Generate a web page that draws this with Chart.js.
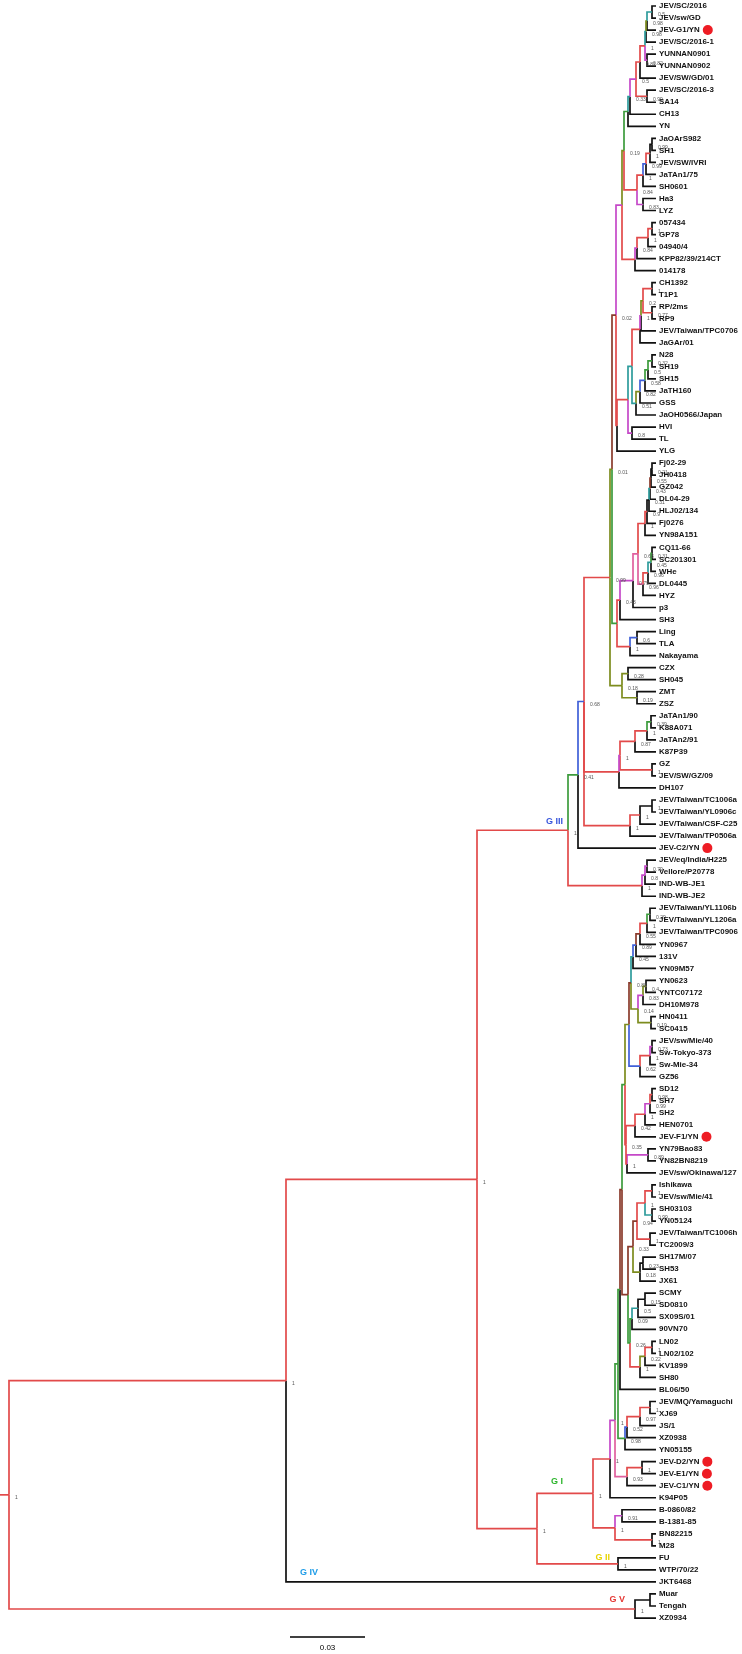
<!DOCTYPE html>
<html>
<head>
<meta charset="utf-8">
<script src="https://cdn.jsdelivr.net/npm/chart.js@4.4.0/dist/chart.umd.min.js"></script>
<style>
    html, body { margin: 0; padding: 0; background: #fff; }
    #wrap { width: 742px; height: 1654px; }
</style>
</head>
<body>
<div id="wrap"><canvas id="treeChart" width="742" height="1654"></canvas></div>
<script>
// ===== TREE DATA (newick pieces: name:branch length, internal label = support, [x] = branch colour class) =====
const gIII_SC = "((((((((JEV/SC/2016:0.0016,JEV/sw/GD:0.0016)0.5:0.002[t],JEV-G1/YN:0.0036)0.98:0.0004[o],JEV/SC/2016-1:0.004)0.98:0.0004[t],(YUNNAN0901:0.0036,YUNNAN0902:0.0036)0.82:0.0008[m])1:0.002,JEV/SW/GD/01:0.0064)0.81:0.0016,(JEV/SC/2016-3:0.0036,SA14:0.0036)0.99:0.0044)0.5:0.0024[m],CH13:0.0104)0.33:0.0008[t],YN:0.0112):0.0016[g]";
const gIII_JaOArS = "(((((JaOArS982:0.0016,SH1:0.0016)0.99:0.0008[k],JEV/SW/IVRI:0.0024)1:0.0016,JaTAn1/75:0.004)0.99:0.0012[b],SH0601:0.0052)1:0.0024,(Ha3:0.0052,LYZ:0.0052)0.83:0.0024[m])0.84:0.0052";
const gIII_057434 = "((((057434:0.0016,GP78:0.0016)1:0.0016,04940/4:0.0032)1:0.0044,KPP82/39/214CT:0.0076)0.84:0.0008[m],014178:0.0084):0.0052";
const gIII_CH1392 = "(((((((CH1392:0.0016,T1P1:0.0016)1:0.0036,(RP/2ms:0.0016,RP9:0.0016)0.77:0.0036)0.2:0.0008[o],JEV/Taiwan/TPC0706:0.006)1:0.0004[m],JaGAr/01:0.0064):0.0032,(((((N28:0.0016,SH19:0.0016)0.32:0.0016[g],SH15:0.0032)0.5:0.0012[g],JaTH160:0.0044)0.58:0.002[b],GSS:0.0064)0.82:0.0016[o],JaOH0566/Japan:0.008)0.51:0.0016[t]):0.0016[t],(HVI:0.0096,TL:0.0096)0.8:0.0016[m]):0.0044,YLG:0.0156):0.0004";
const gIII_Fj = "((((((((((Fj02-29:0.0016,JH0418:0.0016)0.21:0.0004[k],GZ042:0.002)0.55:0.0004[n],DL04-29:0.0024)0.43:0.0004[t],HLJ02/134:0.0028)0.31:0.0008[k],Fj0276:0.0036)0.9:0.0008,YN98A151:0.0044)1:0.0028,((((CQ11-66:0.0016,SC201301:0.0016)0.31:0.0004[g],WHe:0.002)0.45:0.0012[t],DL0445:0.0032)0.96:0.002,HYZ:0.0052)0.96:0.002[p])0.63:0.002[p],p3:0.0092)0.79:0.0052[m],SH3:0.0144)0.43:0.0012,((Ling:0.0076,TLA:0.0076)0.6:0.0028[b],Nakayama:0.0104)1:0.0052):0.002[g]";
const gIII_CZX = "((CZX:0.0112,SH045:0.0112)0.28:0.0024[o],(ZMT:0.0076,ZSZ:0.0076)0.19:0.006[o])0.18:0.0048[o]";
const gIII_JaTAn = "(((((JaTAn1/90:0.002,K88A071:0.002)0.39:0.0016[g],JaTAn2/91:0.0036)1:0.0048,K87P39:0.0084)0.87:0.006,(GZ:0.0016,JEV/SW/GZ/09:0.0016)1:0.0128)1:0.0004[m],DH107:0.0148):0.014";
const gIII_Taiwan = "(((JEV/Taiwan/TC1006a:0.0016,JEV/Taiwan/YL0906c:0.0016)1:0.0048[k],JEV/Taiwan/CSF-C25:0.0064)1:0.004,JEV/Taiwan/TP0506a:0.0104)1:0.0184";
const gIII_India = "(((JEV/eq/India/H225:0.0036,Vellore/P20778:0.0036)0.79:0.0008[m],IND-WB-JE1:0.0044)0.8:0.0012[m],IND-WB-JE2:0.0056)1:0.0296";

const gI_Taiwan = "((((((JEV/Taiwan/YL1106b:0.0024,JEV/Taiwan/YL1206a:0.0024)0.29:0.0012[g],JEV/Taiwan/TPC0906:0.0036)1:0.0028,YN0967:0.0064)0.55:0.0016[n],131V:0.008)0.89:0.0012[b],YN09M57:0.0092)0.45:0.0008[t],(((YN0623:0.004,YNTC07172:0.004)0.4:0.0012[o],DH10M978:0.0052)0.83:0.002[m],(HN0411:0.002,SC0415:0.002)0.19:0.0052[o])0.14:0.0028[o])0.88:0.0008[n]";
const gI_Mie = "(((JEV/sw/Mie/40:0.0016,Sw-Tokyo-373:0.0016)0.73:0.0008[m],Sw-Mie-34:0.0024)1:0.004,GZ56:0.0064)0.62:0.0044[b]";
const gI_SD12 = "(((((SD12:0.0016,SH7:0.0016)0.98:0.0008,SH2:0.0024)0.99:0.002[m],HEN0701:0.0044)1:0.004,JEV-F1/YN:0.0084)0.42:0.0036,((YN79Bao83:0.0032,YN82BN8219:0.0032)0.89:0.0084[m],JEV/sw/Okinawa/127:0.0116)1:0.0004)0.35:0.0004";
const gI_Ishikawa = "((((Ishikawa:0.0016,JEV/sw/Mie/41:0.0016)1:0.0028,(SH03103:0.0016,YN05124:0.0016)0.99:0.0028[t])1:0.0032,(JEV/Taiwan/TC1006h:0.0024,TC2009/3:0.0024)1:0.0052)0.94:0.0016[n],((SH17M/07:0.0052,SH53:0.0052)0.23:0.0012[k],JX61:0.0064)0.18:0.0028[o])0.33:0.002[n]";
const gI_SCMY = "((((SCMY:0.0044,SD0810:0.0044)0.15:0.0028[k],SX09S/01:0.0072)0.5:0.0024[t],90VN70:0.0096)0.09:0.0008[g],(((LN02:0.0016,LN02/102:0.0016)1:0.0028,KV1899:0.0044)0.22:0.002[o],SH80:0.0064)1:0.004)0.26:0.0008[g]";
const gI_Yamaguchi = "((((JEV/MQ/Yamaguchi:0.0024,XJ69:0.0024)1:0.004,JS/1:0.0064)0.97:0.0052,XZ0938:0.0116)0.52:0.0008[b],YN05155:0.0124)0.98:0.0028[g]";
const gI_D2 = "((JEV-D2/YN:0.0056,JEV-E1/YN:0.0056)1:0.006,JEV-C1/YN:0.0116)0.93:0.0048[p]";
const gI_B0860 = "((B-0860/82:0.0136,B-1381-85:0.0136)0.91:0.0028[m],(BN82215:0.0016,M28:0.0016)1:0.0148)1:0.0088";
const gII_FU = "(FU:0.0152,WTP/70/22:0.0152)1:0.0324";
const gV_Muar = "((Muar:0.0024,Tengah:0.0024):0.006[k],XZ0934:0.0084)1:0.2504";

// genotype III backbone
const gIII_upper = `(((((${gIII_SC},${gIII_JaOArS})0.19:0.0008[o],${gIII_057434}):0.0024[m],${gIII_CH1392})0.02:0.0016[n],${gIII_Fj})0.01:0.0008[o],${gIII_CZX})0.99:0.0104`;
const gIII = `(((${gIII_upper},${gIII_JaTAn},${gIII_Taiwan})0.68:0.0024[b],JEV-C2/YN:0.0312)0.41:0.004[g],${gIII_India})1:0.0364`;
// genotype I backbone
const gI_core = `(((((${gI_Taiwan},${gI_Mie}):0.0016[o],${gI_SD12}):0.0012[g],(${gI_Ishikawa},${gI_SCMY}):0.0024[n]):0.0008[n],BL06/50:0.0144):0.0008[g],${gI_Yamaguchi}):0.0012[g]`;
const gI = `(((${gI_core},${gI_D2})1:0.002[m],K94P05:0.0184)1:0.0068,${gI_B0860})1:0.0224`;
const treeNewick = `(((${gIII},(${gI},${gII_FU})1:0.024)1:0.0764,JKT6468:0.148)1:0.1108,${gV_Muar})1;`;

const highlightedTaxa = ["JEV-G1/YN", "JEV-C2/YN", "JEV-F1/YN", "JEV-D2/YN", "JEV-E1/YN", "JEV-C1/YN"];
const genotypeNames = ["G III", "G I", "G II", "G IV", "G V"];
const genotypeFirstTaxon = ["JEV/SC/2016", "JEV/Taiwan/YL1106b", "FU", "JKT6468", "Muar"];
const genotypeLastTaxon = ["IND-WB-JE2", "M28", "WTP/70/22", "JKT6468", "XZ0934"];
const scaleBarLength = 0.03;
const scaleBarLabel = "0.03";

// ===== STYLE =====
const branchColours = {
    r: '#e24a4a', k: '#111111', g: '#3d9c3d', t: '#2e9c9c', m: '#c548c8',
    b: '#4060d8', o: '#7d8c1e', n: '#8a3b2c', p: '#e0609e'
};
const genotypeStyle = [
    { colour: '#3856dc', align: 'right', dx: -5, dy: -9 },
    { colour: '#2db52d', align: 'right', dx: -30, dy: -12 },
    { colour: '#e8d400', align: 'right', dx: -8, dy: -6 },
    { colour: '#1f9de8', align: 'left', dx: 14, dy: -9 },
    { colour: '#e53935', align: 'right', dx: -10, dy: -9 }
];
const X_MIN = -0.0036, X_MAX = 0.2932;    // root sits 9px from the left edge
const Y_MIN = -0.4988, Y_MAX = 136.99;    // 12.03px per tip row
const scaleBarAt = { x: 0.1124, y: 135.58 };

// ===== NEWICK PARSER =====
function parseNewick(s) {
    let i = 0;
    function readNode() {
        const node = { children: [], len: 0, tone: null };
        if (s[i] === '(') {
            i++;
            node.children.push(readNode());
            while (s[i] === ',') { i++; node.children.push(readNode()); }
            i++; // ')'
        }
        let label = '';
        while (i < s.length && !':,);['.includes(s[i])) label += s[i++];
        if (node.children.length) node.support = label; else node.name = label;
        if (s[i] === ':') {
            i++;
            let num = '';
            while (i < s.length && !',);['.includes(s[i])) num += s[i++];
            node.len = parseFloat(num);
        }
        if (s[i] === '[') {
            i++;
            let c = '';
            while (s[i] !== ']') c += s[i++];
            i++;
            node.tone = c;
        }
        return node;
    }
    return readNode();
}

const tree = parseNewick(treeNewick);
const leaves = [];
const allNodes = [];
function layout(node, x) {
    node.x = x;
    allNodes.push(node);
    if (!node.children.length) {
        node.y = leaves.length;
        leaves.push(node);
        return;
    }
    node.children.forEach(c => { c.parent = node; layout(c, x + c.len); });
    node.y = (node.children[0].y + node.children[node.children.length - 1].y) / 2;
}
layout(tree, 0);

function findLeaf(name) { return leaves.find(l => l.name === name); }
function mrca(a, b) {
    const seen = new Set();
    for (let n = a; n; n = n.parent) seen.add(n);
    for (let n = b; n; n = n.parent) if (seen.has(n)) return n;
    return null;
}

// ===== DATASETS: one elbow per branch =====
const datasets = [];
allNodes.forEach(node => {
    if (!node.parent) return;
    const tone = node.tone || (node.children.length ? 'r' : 'k');
    datasets.push({
        data: [
            { x: node.parent.x, y: node.parent.y },
            { x: node.parent.x, y: node.y },
            { x: node.x, y: node.y }
        ],
        showLine: true,
        borderColor: branchColours[tone],
        borderWidth: 1.7,
        pointRadius: 0,
        fill: false
    });
});
// root stub
datasets.push({
    data: [{ x: X_MIN, y: tree.y }, { x: 0, y: tree.y }],
    showLine: true, borderColor: branchColours.r, borderWidth: 1.7, pointRadius: 0
});
// scale bar
datasets.push({
    data: [{ x: scaleBarAt.x, y: scaleBarAt.y }, { x: scaleBarAt.x + scaleBarLength, y: scaleBarAt.y }],
    showLine: true, borderColor: '#000', borderWidth: 1.5, pointRadius: 0
});

// ===== TEXT PLUGIN =====
const treeText = {
    id: 'treeText',
    afterDatasetsDraw(chart) {
        const ctx = chart.ctx;
        const xs = chart.scales.x, ys = chart.scales.y;
        ctx.save();

        // support values
        ctx.font = '5px "Liberation Sans", Arial, sans-serif';
        ctx.fillStyle = '#555';
        ctx.textAlign = 'left';
        ctx.textBaseline = 'middle';
        allNodes.forEach(n => {
            if (!n.children.length || !n.support) return;
            ctx.fillText(n.support, xs.getPixelForValue(n.x) + 6, ys.getPixelForValue(n.y) + 3);
        });

        // tip labels + highlighted dots
        ctx.font = 'bold 7.9px "Liberation Sans", Arial, sans-serif';
        leaves.forEach(l => {
            const px = xs.getPixelForValue(l.x) + 3;
            const py = ys.getPixelForValue(l.y);
            ctx.fillStyle = '#111';
            ctx.fillText(l.name, px, py);
            if (highlightedTaxa.includes(l.name)) {
                const w = ctx.measureText(l.name).width;
                ctx.beginPath();
                ctx.arc(px + w + 8, py, 5, 0, Math.PI * 2);
                ctx.fillStyle = '#ee1c24';
                ctx.fill();
            }
        });

        // genotype labels
        ctx.font = 'bold 9px "Liberation Sans", Arial, sans-serif';
        genotypeNames.forEach((name, k) => {
            const node = mrca(findLeaf(genotypeFirstTaxon[k]), findLeaf(genotypeLastTaxon[k]));
            const st = genotypeStyle[k];
            const anchorX = st.align === 'left' ? node.parent.x : node.x;
            ctx.fillStyle = st.colour;
            ctx.textAlign = st.align;
            ctx.fillText(name, xs.getPixelForValue(anchorX) + st.dx, ys.getPixelForValue(node.y) + st.dy);
        });

        // scale bar label
        ctx.font = '8px "Liberation Sans", Arial, sans-serif';
        ctx.fillStyle = '#000';
        ctx.textAlign = 'center';
        ctx.fillText(scaleBarLabel, xs.getPixelForValue(scaleBarAt.x + scaleBarLength / 2), ys.getPixelForValue(scaleBarAt.y) + 11);
        ctx.restore();
    }
};

new Chart(document.getElementById('treeChart'), {
    type: 'scatter',
    data: { datasets },
    options: {
        responsive: false,
        animation: false,
        devicePixelRatio: 1,
        layout: { padding: 0 },
        plugins: { legend: { display: false }, tooltip: { enabled: false } },
        scales: {
            x: { type: 'linear', display: false, min: X_MIN, max: X_MAX },
            y: { type: 'linear', display: false, reverse: true, min: Y_MIN, max: Y_MAX }
        }
    },
    plugins: [treeText]
});
</script>
</body>
</html>
